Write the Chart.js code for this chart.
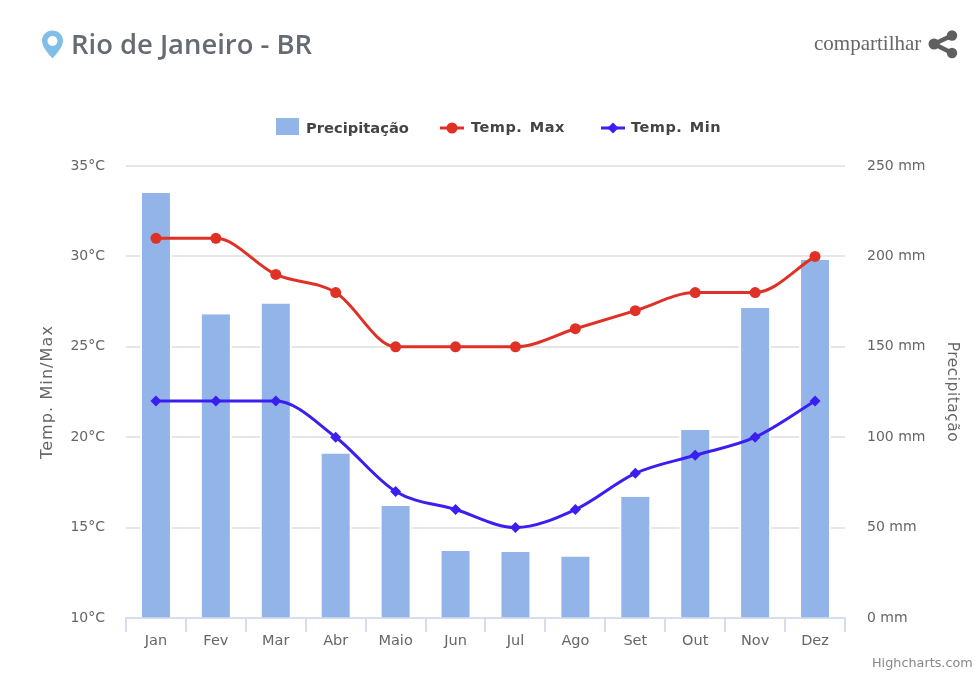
<!DOCTYPE html>
<html lang="pt-BR">
<head>
<meta charset="utf-8">
<title>Rio de Janeiro - BR</title>
<script src="https://cdn.jsdelivr.net/npm/chart.js@4"></script>
<style>
    html, body { margin: 0; padding: 0; background: #fff; }
    #wrap { position: relative; width: 980px; height: 675px; overflow: hidden; }
    #climateChart { position: absolute; left: 0; top: 0; }
    .abs { position: absolute; white-space: nowrap; }
    #cityName { left: 71px; top: 25px; font: 600 27.4px "Open Sans", sans-serif; color: #666b73; }
    #share { left: 814px; top: 31px; font: 21px "Liberation Serif", serif; color: #666; }
    #credit { left: 872px; top: 655px; font: 12.8px "DejaVu Sans", sans-serif; color: #888; }
    .legendText { top: 119px; font: bold 14.7px "DejaVu Sans", sans-serif; color: #444; }
    .legendTemp { font-size: 14.5px; letter-spacing: 0.5px; word-spacing: 2px; }
</style>
</head>
<body>
<div id="wrap">
    <canvas id="climateChart" width="980" height="675"></canvas>

    <svg class="abs" style="left:41px;top:30px" width="23" height="29" viewBox="0 0 23 29">
        <path fill="#82bfe6" fill-rule="evenodd" d="M11.5 0.5C5.4 0.5 1 5 1 10.7c0 6.6 7 13.6 10.5 17.8C15 24.3 22 17.3 22 10.7 22 5 17.6 0.5 11.5 0.5zM11.5 6a5 5 0 1 1 0 10a5 5 0 1 1 0-10z"/>
    </svg>
    <div id="cityName" class="abs">Rio de Janeiro - BR</div>

    <div id="share" class="abs">compartilhar</div>
    <svg class="abs" style="left:928px;top:30px" width="30" height="30" viewBox="0 0 30 30">
        <g fill="#5f5f5f" stroke="#5f5f5f">
            <line x1="6" y1="14" x2="24" y2="5.5" stroke-width="4.5"/>
            <line x1="6" y1="14" x2="24" y2="23" stroke-width="4.5"/>
            <circle cx="6" cy="14" r="5.5" stroke="none"/>
            <circle cx="24" cy="5.5" r="5.2" stroke="none"/>
            <circle cx="24" cy="23" r="5.2" stroke="none"/>
        </g>
    </svg>

    <svg class="abs" style="left:276px;top:117px" width="24" height="19"><rect y="1" width="23" height="17" fill="#92b4e8"/></svg>
    <div class="abs legendText" style="left:306px">Precipitação</div>
    <svg class="abs" style="left:440px;top:118px" width="24" height="20">
        <line x1="0" y1="10" x2="24" y2="10" stroke="#e03127" stroke-width="3"/>
        <circle cx="12" cy="10" r="5.5" fill="#e03127"/>
    </svg>
    <div class="abs legendText legendTemp" style="left:471px">Temp. Max</div>
    <svg class="abs" style="left:601px;top:118px" width="24" height="20">
        <line x1="0" y1="10" x2="24" y2="10" stroke="#3a1ff0" stroke-width="3"/>
        <path d="M12 4.5 L17.5 10 L12 15.5 L6.5 10 Z" fill="#3a1ff0"/>
    </svg>
    <div class="abs legendText legendTemp" style="left:631px">Temp. Min</div>

    <div id="credit" class="abs">Highcharts.com</div>
</div>

<script>
const months = ['Jan', 'Fev', 'Mar', 'Abr', 'Maio', 'Jun', 'Jul', 'Ago', 'Set', 'Out', 'Nov', 'Dez'];
const precipitation = [235, 168, 174, 91, 62, 37, 36.5, 34, 67, 104, 171.5, 198];
const tempMax = [31, 31, 29, 28, 25, 25, 25, 26, 27, 28, 28, 30];
const tempMin = [22, 22, 22, 20, 17, 16, 15, 16, 18, 19, 20, 22];

const tickFont = { family: '"DejaVu Sans", sans-serif', size: 14 };
const tickColor = '#666';

// Chart.js has no letter spacing option for axis titles, so wrap the title drawing
const titleSpacing = {
    id: 'titleSpacing',
    afterLayout(chart) {
        [['y', '1.1px'], ['y1', '0.5px']].forEach(([id, spacing]) => {
            const scale = chart.scales[id];
            const drawTitle = scale.drawTitle;
            scale.drawTitle = function () {
                chart.ctx.letterSpacing = spacing;
                drawTitle.call(scale);
                chart.ctx.letterSpacing = '0px';
            };
        });
    }
};

const ctx = document.getElementById('climateChart');

new Chart(ctx, {
    data: {
        labels: months,
        datasets: [
            {
                type: 'line',
                label: 'Temp. Max',
                data: tempMax,
                yAxisID: 'y',
                borderColor: '#e03127',
                backgroundColor: '#e03127',
                borderWidth: 3,
                cubicInterpolationMode: 'monotone',
                pointStyle: 'circle',
                pointRadius: 5.5,
                pointBorderWidth: 0,
                order: 1
            },
            {
                type: 'line',
                label: 'Temp. Min',
                data: tempMin,
                yAxisID: 'y',
                borderColor: '#3a1ff0',
                backgroundColor: '#3a1ff0',
                borderWidth: 3,
                cubicInterpolationMode: 'monotone',
                pointStyle: 'rectRot',
                pointRadius: 5.5,
                pointBorderWidth: 0,
                order: 2
            },
            {
                type: 'bar',
                label: 'Precipitação',
                data: precipitation,
                yAxisID: 'y1',
                backgroundColor: '#92b4e8',
                borderColor: '#ffffff',
                // white sides only, so the bar top stays on its value
                borderWidth: { left: 2, right: 2, top: 0, bottom: 0 },
                barPercentage: 0.534,
                categoryPercentage: 1,
                order: 3
            }
        ]
    },
    options: {
        responsive: false,
        animation: false,
        layout: { padding: { top: 166, left: 0, right: 0, bottom: 0 } },
        plugins: {
            legend: { display: false },
            tooltip: { enabled: false }
        },
        scales: {
            x: {
                afterFit: scale => { scale.height = 57; },
                grid: {
                    drawOnChartArea: false,
                    color: '#d5deee',
                    lineWidth: 2,
                    tickLength: 14
                },
                border: { color: '#d5deee', width: 2 },
                ticks: { font: { family: tickFont.family, size: 14.5 }, color: tickColor, padding: 1, maxRotation: 0 }
            },
            y: {
                position: 'left',
                min: 10,
                max: 35,
                afterFit: scale => { scale.width = 126; },
                grid: { color: '#e6e6e6', lineWidth: 2, drawTicks: false },
                border: { display: false },
                ticks: {
                    stepSize: 5,
                    padding: 21,
                    font: tickFont,
                    color: tickColor,
                    callback: value => value + '°C'
                },
                title: { display: true, text: 'Temp. Min/Max', font: { family: tickFont.family, size: 16 }, color: tickColor, padding: { top: 38, bottom: 0 } }
            },
            y1: {
                position: 'right',
                min: 0,
                max: 250,
                afterFit: scale => { scale.width = 135; },
                grid: { drawOnChartArea: false, drawTicks: false },
                border: { display: false },
                ticks: {
                    stepSize: 50,
                    padding: 22,
                    font: tickFont,
                    color: tickColor,
                    callback: value => value + ' mm'
                },
                title: { display: true, text: 'Precipitação', font: { family: tickFont.family, size: 15.5 }, color: tickColor, padding: { top: 19, bottom: 0 } }
            }
        }
    },
    plugins: [titleSpacing]
});
</script>
</body>
</html>
